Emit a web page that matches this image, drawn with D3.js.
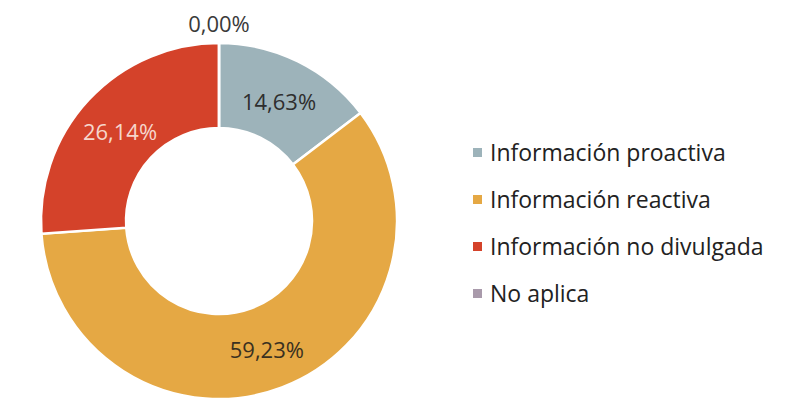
<!DOCTYPE html>
<html>
<head>
<meta charset="utf-8">
<script src="https://cdn.jsdelivr.net/npm/d3@7"></script>
<style>
  body { margin: 0; background: #ffffff; }
  svg { display: block; }
</style>
</head>
<body>
<svg id="chart"></svg>
<script>
var categories = ["Información proactiva", "Información reactiva", "Información no divulgada", "No aplica"];
var values = [14.63, 59.23, 26.14, 0.00];
var labels = ["14,63%", "59,23%", "26,14%", "0,00%"];
var colors = ["#9db3ba", "#e5a844", "#d4422a", "#a99aab"];
var labelColors = ["#2e2e2e", "#3a3020", "#f6d6cc", "#3a3a3a"];

var width = 796, height = 412;
var cx = 219, cy = 221;
var outerR = 178, innerR = 93;

var svg = d3.select("#chart").attr("width", width).attr("height", height);

var pie = d3.pie().sort(null).value(function (d) { return d; });
var arc = d3.arc().innerRadius(innerR).outerRadius(outerR);

var g = svg.append("g").attr("transform", "translate(" + cx + "," + cy + ")");

var arcs = pie(values);

g.selectAll("path.slice")
  .data(arcs)
  .enter()
  .append("path")
  .attr("class", "slice")
  .attr("d", arc)
  .attr("fill", function (d, i) { return colors[i]; })
  .attr("stroke", "#ffffff")
  .attr("stroke-width", 2.5);

// label positions: ring middle for the real slices, outside for the empty one
var labelArc = d3.arc().innerRadius(outerR * 0.76).outerRadius(outerR * 0.76);
var outArc = d3.arc().innerRadius(outerR + 22).outerRadius(outerR + 22);

g.selectAll("text.val")
  .data(arcs)
  .enter()
  .append("text")
  .attr("class", "val")
  .attr("transform", function (d, i) {
    var p = values[i] === 0 ? outArc.centroid(d) : labelArc.centroid(d);
    return "translate(" + p[0] + "," + (p[1] + 3) + ")";
  })
  .attr("text-anchor", "middle")
  .attr("dy", "0.35em")
  .attr("font-family", "Open Sans")
  .attr("font-size", "22px")
  .attr("fill", function (d, i) { return labelColors[i]; })
  .text(function (d, i) { return labels[i]; });

// legend
var legend = svg.append("g").attr("transform", "translate(473,153)");
var rows = legend.selectAll("g.row")
  .data(categories)
  .enter()
  .append("g")
  .attr("class", "row")
  .attr("transform", function (d, i) { return "translate(0," + (i * 47) + ")"; });

rows.append("rect")
  .attr("x", 0).attr("y", -5)
  .attr("width", 9).attr("height", 9)
  .attr("fill", function (d, i) { return colors[i]; });

rows.append("text")
  .attr("x", 17).attr("y", 0)
  .attr("dy", "0.35em")
  .attr("font-family", "Open Sans")
  .attr("font-size", "23px")
  .attr("fill", "#222222")
  .text(function (d) { return d; });
</script>
</body>
</html>
